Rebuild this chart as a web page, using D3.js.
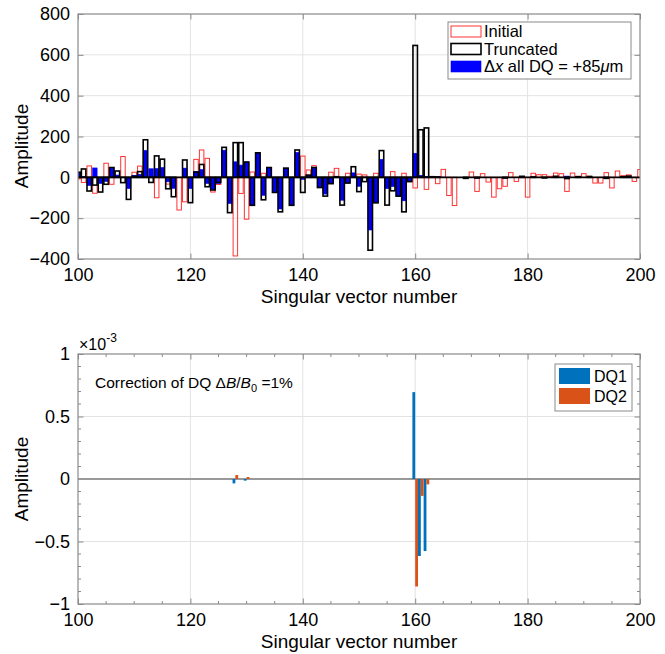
<!DOCTYPE html>
<html>
<head>
<meta charset="utf-8">
<script src="https://cdn.jsdelivr.net/npm/d3@7"></script>
<style>
  body { margin: 0; background: #fff; }
  svg { font-family: "Liberation Sans", Arial, Helvetica, sans-serif; }
  .tick text { fill: #000; }
  .grid line { stroke: #e3e3e3; }
</style>
</head>
<body>
<div id="viz_container"></div>
<script>
// singular vector numbers shown on the x axis
const vectors = d3.range(100, 201);

// top panel: amplitudes per singular vector (100..200)
const initialAmp = [
  -8, -25, 56, -78, 0, 69, -34, 0, 102, 0,
  25, 55, 0, 0, -100, 0, -33, -30, -160, -120,
  0, 88, 134, 93, -72, -35, 0, 0, -385, -79,
  -205, 26, 18, 20, 10, 0, 0, 0, 0, 0,
  104, 36, 57, 0, -75, 25, 44, 0, 20, 0,
  16, 12, 0, 20, 0, 0, 28, 0, 20, 0,
  -52, 0, -59, 0, -31, 39, -89, -138, 0, 0,
  26, -69, 18, -23, -97, -56, -44, 23, -20, 0,
  -97, 20, 13, 13, 5, 21, 18, -69, 21, 5,
  18, 5, -28, -28, 23, -52, 31, 8, 12, -20,
  38
];
const truncatedAmp = [
  25, 41, -67, -38, -72, -34, 48, 31, -26, -108,
  5, 28, 184, -25, 105, 89, -56, -95, 0, 85,
  -124, 26, 63, -46, -62, -25, 147, -173, 170, 170,
  75, -137, 120, -110, 48, -74, -169, 45, -137, 134,
  -74, 11, 48, -50, -92, -31, 3, -136, -28, 52,
  -70, -21, -357, -125, 131, -136, -66, -92, -169, -21,
  646, 233, 242, 3, 2, 0, 0, 0, 0, -5,
  0, -3, 0, 0, 0, 0, -3, 0, 0, 5,
  0, 2, 0, -3, 0, 5, 0, -6, 0, 3,
  0, 4, 0, 0, -5, 0, 0, 3, 6, 0,
  0
];
const deltaXAmp = [
  25, 5, -40, 46, -30, -20, 45, 11, 0, -55,
  10, 15, 132, 42, 43, 48, -22, -54, 0, 45,
  -55, 28, 38, -30, -60, -30, 133, -128, 76, 60,
  75, -137, 120, -88, 48, -74, -155, 45, -137, 122,
  -10, 8, 45, -50, -82, -31, 3, -112, -28, 22,
  -44, 0, -258, -124, 88, -55, -45, -92, -115, -20,
  118, 10, 5, 4, 2, 1, 0, 0, 0, -2,
  0, -4, 0, 0, 0, 0, -4, 0, 0, 2,
  0, 0, 0, -2, 0, 3, 0, 6, 0, 0,
  0, 2, 0, 0, -3, 0, 0, 0, 3, 0,
  0
];

// bottom panel: DQ corrections (x 1e-3), only non-zero vectors
const dqVectors = [128, 130, 160, 161, 162];
const dq1 = [-0.035, -0.013, 0.695, -0.616, -0.576];
const dq2 = [0.032, 0.016, -0.86, -0.135, -0.043];

// tick values
const xTicks = [100, 120, 140, 160, 180, 200];
const yTicksTop = [-400, -200, 0, 200, 400, 600, 800];
const yTicksBot = [-1, -0.5, 0, 0.5, 1];

const W = 665, H = 654;
const svg = d3.select("#viz_container").append("svg")
  .attr("width", W).attr("height", H);

const boxColor = "#8a8a8a";

function drawFrame(x, y, xt, yt, xMinor, yMinor, fmtY) {
  const [x0, x1] = x.range();
  const [y1, y0] = y.range();
  const g = svg.append("g");

  // grid
  g.append("g").attr("class", "grid")
    .selectAll("line.vx").data(xt.slice(1, -1)).join("line")
      .attr("x1", d => x(d)).attr("x2", d => x(d))
      .attr("y1", y0).attr("y2", y1);
  g.append("g").attr("class", "grid")
    .selectAll("line.hy").data(yt.filter(d => d !== 0).slice(1, -1)).join("line")
      .attr("x1", x0).attr("x2", x1)
      .attr("y1", d => y(d)).attr("y2", d => y(d));

  const tk = 5.5;
  const axes = [
    g.append("g").attr("transform", `translate(0,${y1})`)
      .call(d3.axisBottom(x).tickValues(xt).tickSizeInner(-tk).tickSizeOuter(0).tickPadding(9).tickFormat(d3.format("d"))),
    g.append("g").attr("transform", `translate(0,${y0})`)
      .call(d3.axisTop(x).tickValues(xt).tickSizeInner(-tk).tickSizeOuter(0).tickFormat("")),
    g.append("g").attr("transform", `translate(${x0},0)`)
      .call(d3.axisLeft(y).tickValues(yt).tickSizeInner(-tk).tickSizeOuter(0).tickPadding(8).tickFormat(fmtY)),
    g.append("g").attr("transform", `translate(${x1},0)`)
      .call(d3.axisRight(y).tickValues(yt).tickSizeInner(-tk).tickSizeOuter(0).tickFormat(""))
  ];
  axes.forEach(a => {
    a.select(".domain").remove();
    a.selectAll(".tick line").attr("stroke", boxColor);
    a.selectAll(".tick text").style("font-size", "18px");
  });

  if (xMinor) {
    [y1, y0].forEach((yy, i) => {
      g.append("g").selectAll("line").data(xMinor).join("line")
        .attr("x1", d => x(d)).attr("x2", d => x(d))
        .attr("y1", yy).attr("y2", i ? yy + 3 : yy - 3)
        .attr("stroke", boxColor);
    });
  }
  if (yMinor) {
    [x0, x1].forEach((xx, i) => {
      g.append("g").selectAll("line").data(yMinor).join("line")
        .attr("x1", xx).attr("x2", i ? xx - 3 : xx + 3)
        .attr("y1", d => y(d)).attr("y2", d => y(d))
        .attr("stroke", boxColor);
    });
  }
  return g;
}

function drawBox(x, y) {
  const [x0, x1] = x.range();
  const [y1, y0] = y.range();
  svg.append("rect")
    .attr("x", x0).attr("y", y0)
    .attr("width", x1 - x0).attr("height", y1 - y0)
    .attr("fill", "none").attr("stroke", boxColor).attr("stroke-width", 1.2);
}

// ---------------- top panel ----------------
const xTop = d3.scaleLinear().domain([100, 200]).range([78, 640]);
const yTop = d3.scaleLinear().domain([-400, 800]).range([259, 14]);

drawFrame(xTop, yTop, xTicks, yTicksTop, null, null, d3.format("d"));

svg.append("clipPath").attr("id", "clipTop")
  .append("rect").attr("x", 78).attr("y", 14).attr("width", 562).attr("height", 245);

const topBars = svg.append("g").attr("clip-path", "url(#clipTop)");
const hw = 0.4;

function barRect(sel, vals) {
  sel.selectAll("rect").data(vectors).join("rect")
    .attr("x", d => xTop(d - hw))
    .attr("width", xTop(100 + 2 * hw) - xTop(100))
    .attr("y", (d, i) => yTop(Math.max(0, vals[i])))
    .attr("height", (d, i) => Math.abs(yTop(vals[i]) - yTop(0)));
}

topBars.append("g").call(barRect, initialAmp)
  .selectAll("rect").attr("fill", "none").attr("stroke", "#ff3333").attr("stroke-width", 1);
topBars.append("g").call(barRect, deltaXAmp)
  .selectAll("rect").attr("fill", "#0000ff").attr("stroke", "#0000ff").attr("stroke-width", 0.6);
topBars.append("g").call(barRect, truncatedAmp)
  .selectAll("rect").attr("fill", "none").attr("stroke", "#000").attr("stroke-width", 1.6);

// bar baseline
svg.append("line")
  .attr("x1", xTop(100)).attr("x2", xTop(200))
  .attr("y1", yTop(0)).attr("y2", yTop(0))
  .attr("stroke", "#000").attr("stroke-width", 1.6);

drawBox(xTop, yTop);

svg.append("text")
  .attr("x", (78 + 640) / 2).attr("y", 303)
  .attr("text-anchor", "middle").style("font-size", "19px")
  .text("Singular vector number");
svg.append("text")
  .attr("transform", "translate(28,146) rotate(-90)")
  .attr("text-anchor", "middle").style("font-size", "19px")
  .text("Amplitude");

// legend top
const lg = svg.append("g");
lg.append("rect").attr("x", 448).attr("y", 22).attr("width", 183).attr("height", 57)
  .attr("fill", "#fff").attr("stroke", boxColor);
const legendTop = [
  {label: "Initial", fill: "none", stroke: "#ff3333", sw: 1},
  {label: "Truncated", fill: "none", stroke: "#000", sw: 1.6},
  {label: "dx", fill: "#0000ff", stroke: "#0000ff", sw: 0.6}
];
legendTop.forEach((d, i) => {
  const yy = 26 + i * 17.5;
  lg.append("rect").attr("x", 451).attr("y", yy).attr("width", 30).attr("height", 11)
    .attr("fill", d.fill).attr("stroke", d.stroke).attr("stroke-width", d.sw);
  const t = lg.append("text").attr("x", 484).attr("y", yy + 11).style("font-size", "16.5px");
  if (d.label === "dx") {
    t.append("tspan").text("\u0394");
    t.append("tspan").style("font-style", "italic").text("x");
    t.append("tspan").text(" all DQ = +85");
    t.append("tspan").style("font-style", "italic").text("\u03bc");
    t.append("tspan").text("m");
  } else {
    t.text(d.label);
  }
});

// ---------------- bottom panel ----------------
const xBot = d3.scaleLinear().domain([100, 200]).range([78, 640]);
const yBot = d3.scaleLinear().domain([-1, 1]).range([604, 354]);

const xMinor = d3.range(105, 200, 5).filter(d => d % 20 !== 0);
const yMinor = d3.range(-9, 10).map(d => d / 10).filter(d => Math.abs(d) !== 0.5 && d !== 0);

drawFrame(xBot, yBot, xTicks, yTicksBot, xMinor, yMinor, d => d3.format("")(d));

// zero baseline
svg.append("line")
  .attr("x1", xBot(100)).attr("x2", xBot(200))
  .attr("y1", yBot(0)).attr("y2", yBot(0))
  .attr("stroke", "#999").attr("stroke-width", 2);

const bw = 0.5;
svg.append("g").selectAll("rect").data(dqVectors).join("rect")
  .attr("x", d => xBot(d - bw))
  .attr("width", xBot(100 + bw) - xBot(100))
  .attr("y", (d, i) => yBot(Math.max(0, dq1[i])))
  .attr("height", (d, i) => Math.abs(yBot(dq1[i]) - yBot(0)))
  .attr("fill", "#0072bd");
svg.append("g").selectAll("rect").data(dqVectors).join("rect")
  .attr("x", d => xBot(d))
  .attr("width", xBot(100 + bw) - xBot(100))
  .attr("y", (d, i) => yBot(Math.max(0, dq2[i])))
  .attr("height", (d, i) => Math.abs(yBot(dq2[i]) - yBot(0)))
  .attr("fill", "#d95319");

drawBox(xBot, yBot);

// exponent label
const ex = svg.append("text").attr("x", 79).attr("y", 350).style("font-size", "16px");
ex.append("tspan").text("\u00d710");
ex.append("tspan").attr("dy", -8).style("font-size", "12px").text("-3");

// annotation
const an = svg.append("text").attr("x", 95).attr("y", 388).style("font-size", "15.5px");
an.append("tspan").text("Correction of DQ \u0394");
an.append("tspan").style("font-style", "italic").text("B");
an.append("tspan").text("/");
an.append("tspan").style("font-style", "italic").text("B");
an.append("tspan").attr("dy", 4).style("font-size", "11px").text("0");
an.append("tspan").attr("dy", -4).text(" =1%");

svg.append("text")
  .attr("x", (78 + 640) / 2).attr("y", 648)
  .attr("text-anchor", "middle").style("font-size", "19px")
  .text("Singular vector number");
svg.append("text")
  .attr("transform", `translate(28,${(354 + 604) / 2}) rotate(-90)`)
  .attr("text-anchor", "middle").style("font-size", "19px")
  .text("Amplitude");

// legend bottom
const lb = svg.append("g");
lb.append("rect").attr("x", 555).attr("y", 364).attr("width", 77).attr("height", 47)
  .attr("fill", "#fff").attr("stroke", boxColor);
[["DQ1", "#0072bd"], ["DQ2", "#d95319"]].forEach((d, i) => {
  const yy = 368 + i * 20;
  lb.append("rect").attr("x", 559).attr("y", yy).attr("width", 31).attr("height", 16)
    .attr("fill", d[1]);
  lb.append("text").attr("x", 594).attr("y", yy + 14).style("font-size", "16px").text(d[0]);
});
</script>
</body>
</html>
